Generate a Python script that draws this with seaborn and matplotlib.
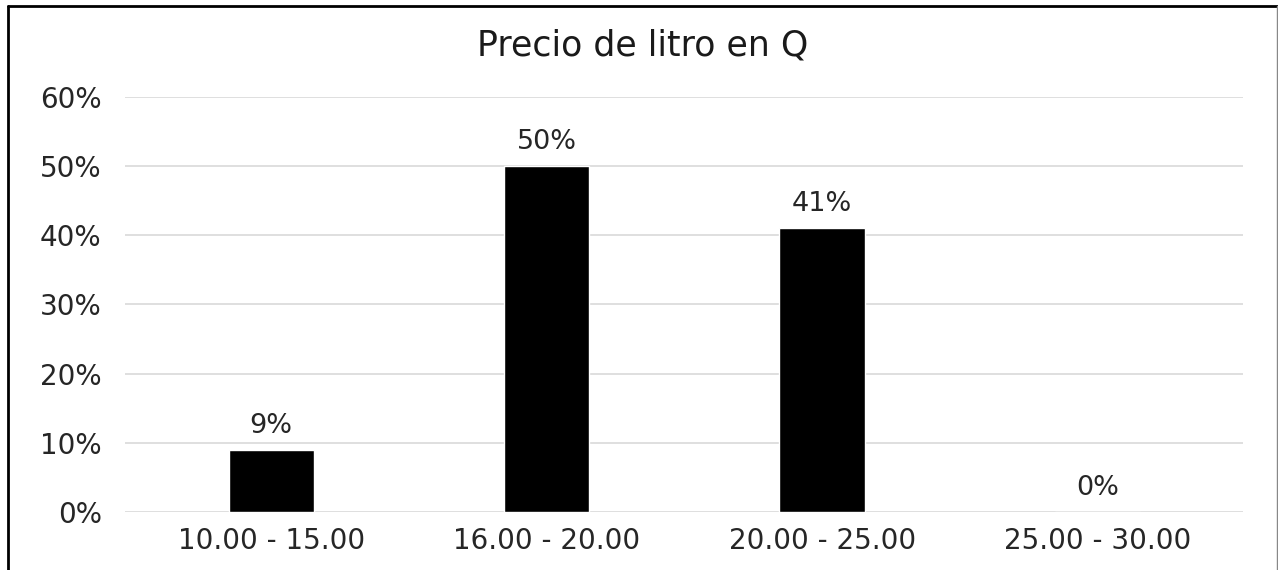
import matplotlib
matplotlib.use('Agg')
import matplotlib.pyplot as plt
import seaborn as sns
import pandas as pd
from matplotlib.ticker import PercentFormatter

# Datos del gráfico
rangos = ['10.00 - 15.00', '16.00 - 20.00', '20.00 - 25.00', '25.00 - 30.00']
porcentajes = [0.09, 0.50, 0.41, 0.00]
etiquetas = ['9%', '50%', '41%', '0%']

df = pd.DataFrame({'rango': rangos, 'porcentaje': porcentajes})

sns.set_style('white')
plt.rcParams['font.family'] = ['DejaVu Sans']

fig = plt.figure(figsize=(12.78, 5.70), dpi=100)
ax = fig.add_axes([0.098, 0.102, 0.875, 0.728])

sns.barplot(data=df, x='rango', y='porcentaje', color='black', width=0.31,
            saturation=1, ax=ax, zorder=3)

# Etiquetas encima de las barras
ax.bar_label(ax.containers[0], labels=etiquetas, padding=8, fontsize=19.5, color='#262626')

ax.set_xlim(-0.53, 3.53)
ax.set_ylim(0, 0.6)
ax.set_yticks([0, 0.1, 0.2, 0.3, 0.4, 0.5, 0.6])
ax.yaxis.set_major_formatter(PercentFormatter(1.0, decimals=0))
ax.grid(axis='y', color='#d9d9d9', linewidth=1.2, zorder=0)
ax.set_axisbelow(True)
for s in ax.spines.values():
    s.set_visible(False)

ax.tick_params(axis='both', length=0, labelsize=20, labelcolor='#262626')
ax.tick_params(axis='y', pad=17)
ax.tick_params(axis='x', pad=11)
ax.set_xlabel('')
ax.set_ylabel('')

fig.text(0.503, 0.921, 'Precio de litro en Q', ha='center', va='center',
         fontsize=25, color='#1a1a1a')

# Borde del recuadro
fig.add_artist(plt.Line2D([0.0063, 0.0063], [0, 0.99], transform=fig.transFigure,
                          color='black', linewidth=2))
fig.add_artist(plt.Line2D([0.0063, 1.0], [0.99, 0.99], transform=fig.transFigure,
                          color='black', linewidth=2))
fig.add_artist(plt.Line2D([0.9992, 0.9992], [0, 0.99], transform=fig.transFigure,
                          color='#888888', linewidth=1))

fig.savefig('out.png', dpi=100, facecolor='white')
